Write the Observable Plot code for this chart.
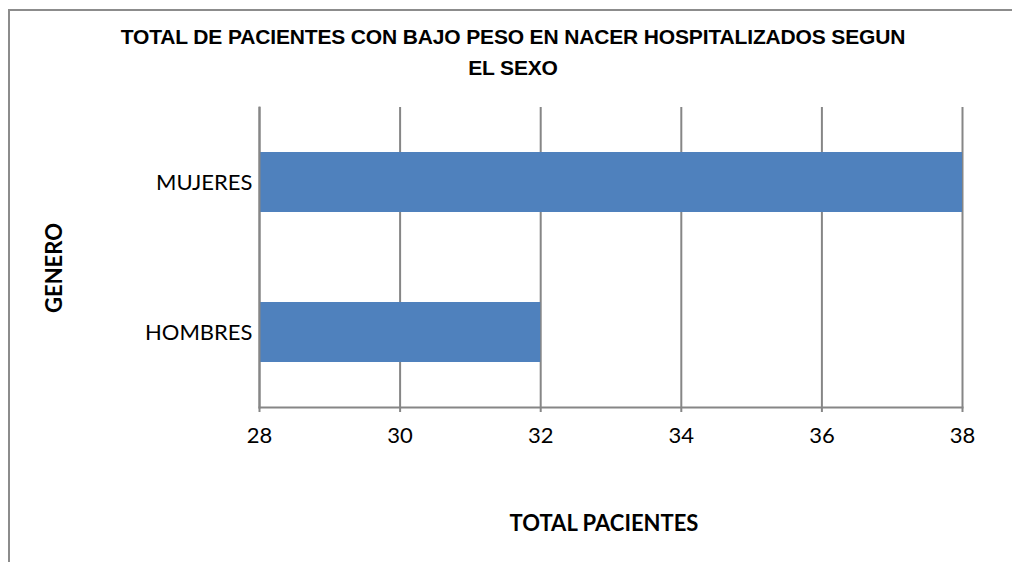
<!DOCTYPE html>
<html>
<head>
<meta charset="utf-8">
<script src="https://cdn.jsdelivr.net/npm/d3@7"></script>
<script src="https://cdn.jsdelivr.net/npm/@observablehq/plot@0.6"></script>
<style>
  html, body { margin: 0; padding: 0; background: #fff; overflow: hidden; }
  #wrap { position: relative; width: 1012px; height: 562px; overflow: hidden; }
  #frame { position: absolute; left: 8px; top: 9px; width: 1200px; height: 800px; border: 2px solid #8c8c8c; box-sizing: border-box; }
  #title { position: absolute; left: 113px; width: 800px; top: 21px; text-align: center;
    font-family: "Liberation Sans", Arial, sans-serif; font-weight: bold; font-size: 21px; line-height: 31px; letter-spacing: -0.15px; color: #000; }
  #xlabel { position: absolute; left: 404px; width: 400px; top: 509px; text-align: center;
    font-family: Lato, "Open Sans", sans-serif; font-weight: bold; font-size: 22px; color: #000; }
  #ylabel { position: absolute; left: 53px; top: 268px; transform: translate(-50%, -50%) rotate(-90deg);
    font-family: Lato, "Open Sans", sans-serif; font-weight: bold; font-size: 22px; color: #000; white-space: nowrap; }
  #chart { position: absolute; left: 0; top: 0; }
</style>
</head>
<body>
<div id="wrap">
  <div id="frame"></div>
  <div id="chart"></div>
  <div id="title">TOTAL DE PACIENTES CON BAJO PESO EN NACER HOSPITALIZADOS SEGUN<br>EL SEXO</div>
  <div id="xlabel">TOTAL PACIENTES</div>
  <div id="ylabel">GENERO</div>
</div>
<script>
const categories = ["MUJERES", "HOMBRES"];
const values = [38, 32];
const xTicks = [28, 30, 32, 34, 36, 38];

const data = categories.map((c, i) => ({genero: c, total: values[i]}));
const xMin = xTicks[0];
const gridColor = "#868686";

const plot = Plot.plot({
  width: 1012,
  height: 562,
  marginLeft: 259,
  marginRight: 50,
  marginTop: 107,
  marginBottom: 155,
  style: { fontFamily: "Lato, 'Open Sans', sans-serif", fontSize: "22px", color: "#000", background: "transparent" },
  x: { domain: [xTicks[0], xTicks[xTicks.length - 1]], ticks: xTicks, label: null },
  y: { domain: categories, paddingInner: 0.6, paddingOuter: 0.3, label: null },
  marks: [
    Plot.gridX(xTicks, { stroke: gridColor, strokeOpacity: 1, strokeWidth: 2 }),
    Plot.barX(data, { y: "genero", x1: () => xMin, x2: "total", fill: "#4F81BD" }),
    Plot.frame({ anchor: "bottom", stroke: gridColor, strokeWidth: 2 }),
    Plot.frame({ anchor: "left", stroke: gridColor, strokeWidth: 2 }),
    Plot.axisX(xTicks, { tickSize: 5, tickPadding: 15, stroke: gridColor, strokeWidth: 2, fontSize: 22, fill: "#000", label: null }),
    Plot.axisY({ tickSize: 0, tickPadding: 7, fontSize: 22, fill: "#000", label: null })
  ]
});
document.getElementById("chart").appendChild(plot);
</script>
</body>
</html>
